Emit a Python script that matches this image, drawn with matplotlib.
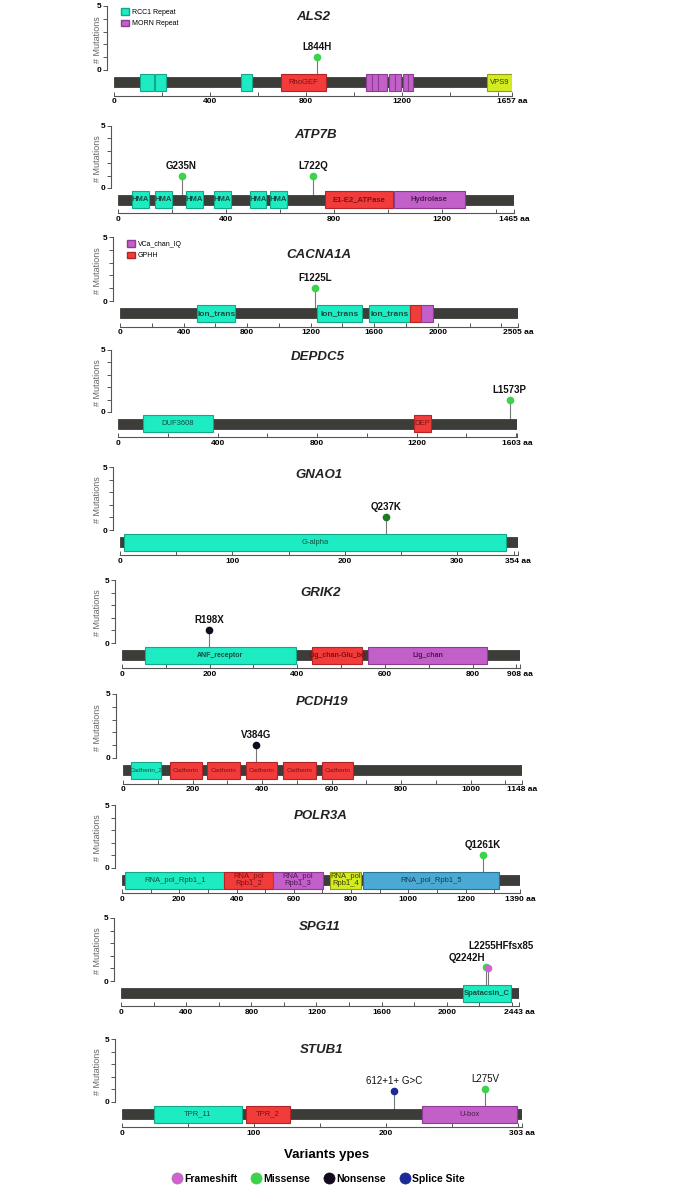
import matplotlib
matplotlib.use('Agg')
import matplotlib.pyplot as plt
from matplotlib.patches import Rectangle, Patch
from matplotlib.lines import Line2D

## protein lengths and axis tick spacing
genes = ['ALS2', 'ATP7B', 'CACNA1A', 'DEPDC5', 'GNAO1', 'GRIK2', 'PCDH19', 'POLR3A', 'SPG11', 'STUB1']
lengths = [1657, 1465, 2505, 1603, 354, 908, 1148, 1390, 2443, 303]
label_step = [400, 400, 400, 400, 100, 200, 200, 200, 400, 100]
tick_step = [200, 200, 200, 200, 50, 100, 100, 100, 200, 50]

## domains: (start, end, name, kind)
als2_domains = [(108, 166, '', 'cyan'), (170, 216, '', 'cyan'), (528, 575, '', 'cyan'),
                (694, 882, 'RhoGEF', 'red'),
                (1050, 1075, '', 'purple'), (1075, 1100, '', 'purple'), (1100, 1135, '', 'purple'),
                (1145, 1170, '', 'purple'), (1170, 1195, '', 'purple'), (1203, 1225, '', 'purple'),
                (1225, 1245, '', 'purple'),
                (1553, 1655, 'VPS9', 'yellow')]
atp7b_domains = [(51, 113, 'HMA', 'cyan'), (137, 199, 'HMA', 'cyan'), (253, 313, 'HMA', 'cyan'),
                 (355, 417, 'HMA', 'cyan'), (487, 547, 'HMA', 'cyan'), (563, 624, 'HMA', 'cyan'),
                 (767, 1017, 'E1-E2_ATPase', 'red'), (1022, 1282, 'Hydrolase', 'purple')]
cacna1a_domains = [(486, 725, 'Ion_trans', 'cyan'), (1243, 1520, 'Ion_trans', 'cyan'),
                   (1568, 1824, 'Ion_trans', 'cyan'), (1824, 1893, '', 'red'), (1893, 1971, '', 'purple')]
depdc5_domains = [(100, 382, 'DUF3608', 'cyan'), (1189, 1259, 'DEP', 'red')]
gnao1_domains = [(4, 343, 'G-alpha', 'cyan')]
grik2_domains = [(53, 396, 'ANF_receptor', 'cyan'), (433, 548, 'Lig_chan-Glu_bd', 'red'),
                 (561, 833, 'Lig_chan', 'purple')]
pcdh19_domains = [(23, 109, 'Cadherin_2', 'cyan'), (134, 228, 'Cadherin', 'red'), (243, 338, 'Cadherin', 'red'),
                  (354, 443, 'Cadherin', 'red'), (459, 555, 'Cadherin', 'red'), (573, 663, 'Cadherin', 'red')]
polr3a_domains = [(12, 357, 'RNA_pol_Rpb1_1', 'cyan'), (357, 526, 'RNA_pol\nRpb1_2', 'red'),
                  (528, 701, 'RNA_pol\nRpb1_3', 'purple'), (728, 834, 'RNA_pol\nRpb1_4', 'yellow'),
                  (841, 1318, 'RNA_pol_Rpb1_5', 'blue')]
spg11_domains = [(2099, 2392, 'Spatacsin_C', 'cyan')]
stub1_domains = [(24, 91, 'TPR_11', 'cyan'), (94, 127, 'TPR_2', 'red'), (227, 299, 'U-box', 'purple')]

## mutations: (position, count, label, type)
als2_muts = [(844, 1, 'L844H', 'Missense')]
atp7b_muts = [(235, 1, 'G235N', 'Missense'), (722, 1, 'L722Q', 'Missense')]
cacna1a_muts = [(1225, 1, 'F1225L', 'Missense')]
depdc5_muts = [(1573, 1, 'L1573P', 'Missense')]
gnao1_muts = [(237, 1, 'Q237K', 'Missense')]
grik2_muts = [(198, 1, 'R198X', 'Nonsense')]
pcdh19_muts = [(384, 1, 'V384G', 'Nonsense')]
polr3a_muts = [(1261, 1, 'Q1261K', 'Missense')]
spg11_muts = [(2242, 1.15, 'Q2242H', 'Missense'), (2255, 1.0, 'L2255HFfsx85', 'Frameshift')]
stub1_muts = [(206, 0.9, '612+1+ G>C', 'Splice Site'), (275, 1.0, 'L275V', 'Missense')]

all_domains = [als2_domains, atp7b_domains, cacna1a_domains, depdc5_domains, gnao1_domains,
               grik2_domains, pcdh19_domains, polr3a_domains, spg11_domains, stub1_domains]
all_muts = [als2_muts, atp7b_muts, cacna1a_muts, depdc5_muts, gnao1_muts,
            grik2_muts, pcdh19_muts, polr3a_muts, spg11_muts, stub1_muts]

variant_types = ['Frameshift', 'Missense', 'Nonsense', 'Splice Site']
variant_colors = {'Frameshift': '#D65FD6', 'Missense': '#3CD24A', 'Nonsense': '#140a1e', 'Splice Site': '#1c2a96'}
dot_override = {'Q237K': '#1e7a26'}
label_pos_override = {'Q2242H': (2126, 1.8), 'L2255HFfsx85': (2330, 2.75)}

fill = {'cyan': '#1DEBC2', 'red': '#F23B3B', 'purple': '#C25FC9', 'yellow': '#D3EC22', 'blue': '#4BAAD3'}
edge = {'cyan': '#12a888', 'red': '#b52424', 'purple': '#8c3d93', 'yellow': '#8f9c14', 'blue': '#2b7196'}
txt = {'cyan': '#174d40', 'red': '#7a1212', 'purple': '#4a1c4e', 'yellow': '#3a3a05', 'blue': '#123a52'}

dom_fs = [5.5, 5.5, 6, 5.5, 5.5, 5, 4.6, 5.5, 5.5, 5.5]
dom_fw = ['normal', 'bold', 'bold', 'normal', 'normal', 'bold', 'normal', 'normal', 'bold', 'normal']
mut_fw = ['bold'] * 9 + ['normal']

## layout in pixels
W, H = 700, 1188
ax_left = [114, 118, 120, 118, 120, 122, 123, 122, 121, 122]
ax_right = [512, 514, 518, 517, 518, 520, 522, 520, 519, 522]
ax_top = [6, 126, 237, 350, 467, 580, 694, 805, 918, 1039]
ax_zero = [70, 188, 301, 412, 530, 643, 758, 868, 981, 1102]
title_y = [4.15, 4.3, 3.6, 4.4, 4.4, 4.0, 4.4, 4.1, 4.3, 4.1]

fig = plt.figure(figsize=(W / 100, H / 100), dpi=100)
plt.rcParams['font.family'] = ['Liberation Sans', 'DejaVu Sans']

for i, g in enumerate(genes):
    L = lengths[i]
    scale = (ax_zero[i] - ax_top[i]) / 5.0
    bottom = ax_zero[i] + 2.0 * scale
    ax = fig.add_axes([ax_left[i] / W, 1 - bottom / H, (ax_right[i] - ax_left[i]) / W, (bottom - ax_top[i]) / H])
    ax.set_xlim(0, L)
    ax.set_ylim(-2.0, 5.0)
    ax.patch.set_alpha(0)
    for s in ['top', 'right']:
        ax.spines[s].set_visible(False)
    ax.spines['left'].set_bounds(0, 5)
    ax.spines['left'].set_position(('outward', 5))
    ax.spines['bottom'].set_bounds(0, L)
    for s in ['left', 'bottom']:
        ax.spines[s].set_color('#555555')
        ax.spines[s].set_linewidth(0.8)

    # x ticks
    majors = list(range(0, L - label_step[i] // 3, label_step[i])) + [L]
    minors = [t for t in range(0, L, tick_step[i]) if t not in majors]
    ax.set_xticks(majors)
    ax.set_xticklabels([str(t) for t in majors[:-1]] + ['%d aa' % L])
    ax.set_xticks(minors, minor=True)
    ax.tick_params(axis='x', which='both', direction='in', length=3, width=0.7, color='#555555',
                   labelsize=6, pad=2)
    for lab in ax.get_xticklabels():
        lab.set_fontweight('bold')
    # y ticks
    ax.set_yticks([0, 5])
    ax.set_yticks([1, 2, 3, 4], minor=True)
    ax.tick_params(axis='y', which='both', direction='out', length=3, width=0.7, color='#555555',
                   labelsize=6, pad=1)
    for lab in ax.get_yticklabels():
        lab.set_fontweight('bold')
    fig.text(97 / W, 1 - (ax_zero[i] - 2.4 * scale) / H, '# Mutations', rotation=90,
             ha='center', va='center', fontsize=6.5, color='#666666')

    # title
    ax.text(L / 2, title_y[i], g, ha='center', va='center', fontsize=9.5,
            fontweight='bold', fontstyle='italic', color='#222222')

    # lollipops
    for pos, cnt, lab, vt in all_muts[i]:
        c = dot_override.get(lab, variant_colors[vt])
        ax.plot([pos, pos], [-0.6, cnt], color='#777777', lw=0.8, zorder=1)
        ax.plot(pos, cnt, 'o', color=c, markersize=4.5, zorder=5)
        lx, ly = label_pos_override.get(lab, (pos, cnt + 0.4))
        ax.text(lx, ly, lab, ha='center', va='bottom' if lab not in label_pos_override else 'center',
                fontsize=7, fontweight=mut_fw[i], color='#111111')

    # protein backbone
    ax.add_patch(Rectangle((0, -1.34), L, 0.76, facecolor='#3c3c39', edgecolor='#2a2a28', lw=0.5, zorder=2))
    # domains
    for st, en, name, kind in all_domains[i]:
        ax.add_patch(Rectangle((st, -1.64), en - st, 1.36, facecolor=fill[kind], edgecolor=edge[kind],
                               lw=0.8, zorder=3))
        if name:
            ax.text((st + en) / 2, -0.96, name, ha='center', va='center', fontsize=dom_fs[i],
                    fontweight=dom_fw[i], color=txt[kind], zorder=4, linespacing=1.15)

    # small domain legends
    if g == 'ALS2':
        hs = [Patch(facecolor=fill['cyan'], edgecolor=edge['cyan']),
              Patch(facecolor=fill['purple'], edgecolor=edge['purple'])]
        ax.legend(hs, ['RCC1 Repeat', 'MORN Repeat'], loc='upper left', bbox_to_anchor=(116 / W, 1 - 3 / H),
                  bbox_transform=fig.transFigure, frameon=False, fontsize=5, handlelength=1.1,
                  handleheight=1.1, handletextpad=0.5, labelspacing=0.6, borderpad=0.2)
    if g == 'CACNA1A':
        hs = [Patch(facecolor=fill['purple'], edgecolor=edge['purple']),
              Patch(facecolor=fill['red'], edgecolor=edge['red'])]
        ax.legend(hs, ['VCa_chan_IQ', 'GPHH'], loc='upper left', bbox_to_anchor=(122 / W, 1 - 235 / H),
                  bbox_transform=fig.transFigure, frameon=False, fontsize=5, handlelength=1.1,
                  handleheight=1.1, handletextpad=0.5, labelspacing=0.6, borderpad=0.2)

fig.text(327 / W, 1 - 1155 / H, 'Variants ypes', ha='center', va='center', fontsize=9.5, fontweight='bold')

handles = [Line2D([], [], marker='o', ls='none', markersize=8, markerfacecolor=variant_colors[v],
                  markeredgecolor='#888888' if v == 'Frameshift' else variant_colors[v], markeredgewidth=0.5)
           for v in variant_types]
fig.legend(handles, variant_types, loc='center', bbox_to_anchor=(318 / W, 1 - 1179 / H), ncol=4,
           frameon=False, prop={'weight': 'bold', 'size': 7.5}, handletextpad=0.1, columnspacing=1.2,
           handlelength=1.2)

fig.savefig('out.png', dpi=100)
